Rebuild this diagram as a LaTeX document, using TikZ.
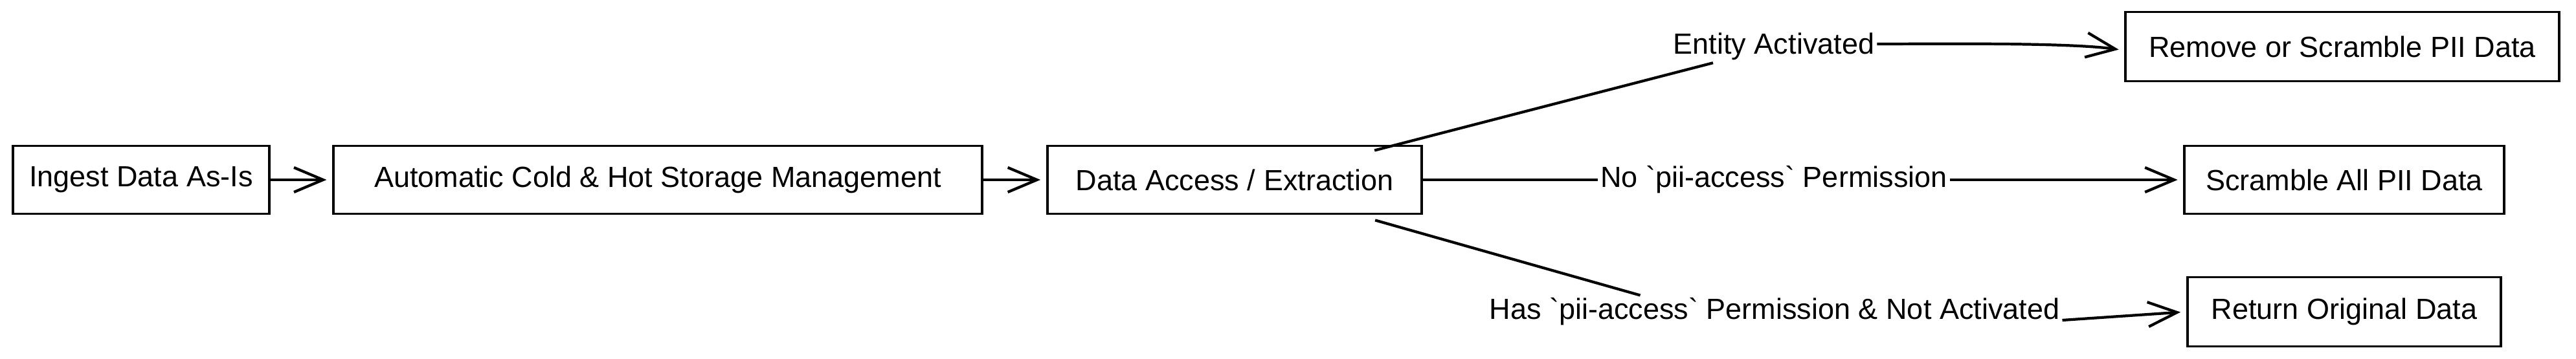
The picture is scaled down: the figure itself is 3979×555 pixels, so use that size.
\documentclass[tikz,border=0pt]{standalone}
\usepackage{fontspec}
\setmainfont{Liberation Sans}
\usetikzlibrary{arrows.meta,calc}

\begin{document}
\begin{tikzpicture}[x=0.01cm,y=0.01cm, every node/.style={font=\fontsize{12.8}{15}\selectfont},
  box/.style={draw, line width=1.1pt, inner sep=0pt, minimum height=1.05cm},
  cond/.style={inner sep=1pt},
  link/.style={line width=1.2pt},
  flow/.style={link, -{Straight Barb[length=4.5mm,width=3.8mm]}, shorten >=2.5pt}]
\useasboundingbox[fill=white] (0,0) rectangle (3979,555);
\node[box, minimum width=3.96cm] (ingest) at (218,277) {Ingest Data As-Is};
\node[box, minimum width=10.01cm] (storage) at (1016,277) {Automatic Cold \& Hot Storage Management};
\node[box, minimum width=5.78cm] (access) at (1907,277) {Data Access / Extraction};
\node[box, minimum width=6.69cm, minimum height=1.07cm] (remove) at (3618,483) {Remove or Scramble PII Data};
\node[box, minimum width=4.93cm] (scramble) at (3621,277) {Scramble All PII Data};
\node[box, minimum width=4.84cm, minimum height=1.07cm] (original) at (3621,73) {Return Original Data};
\node[cond] (activated) at (2740,483) {Entity Activated};
\node[cond] (nopii) at (2740,277) {No \textasciigrave pii-access\textasciigrave{} Permission};
\node[cond] (haspii) at (2741,73) {Has \textasciigrave pii-access\textasciigrave{} Permission \& Not Activated};
\draw[flow] (ingest) -- (storage);
\draw[flow] (storage) -- (access);
\draw[link] ($(access.north east)+(-75,-9)$) -- (activated.195);
\draw[flow] ($(activated.east)+(0,4)$) to[out=0,in=172,looseness=0.6] (remove.181);
\draw[link] (access) -- (nopii);
\draw[flow] (nopii) -- (scramble);
\draw[link] ($(access.south east)+(-74,-8)$) -- (haspii.173);
\draw[flow] ($(haspii.east)+(0,-13)$) -- (original.west);
\end{tikzpicture}
\end{document}
